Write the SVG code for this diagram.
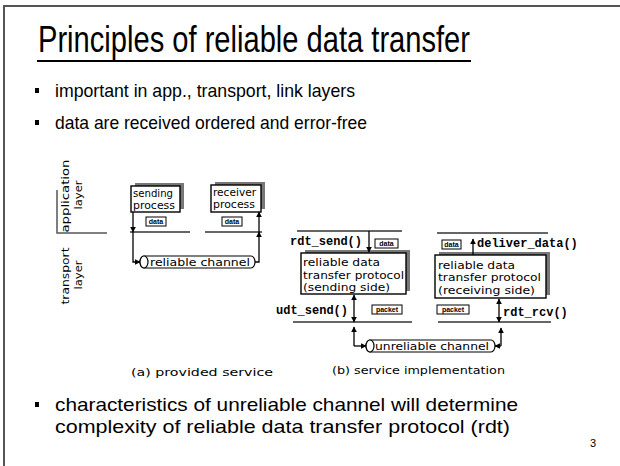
<svg xmlns="http://www.w3.org/2000/svg" width="620" height="466" viewBox="0 0 620 466">
  <defs>
    <marker id="ah" viewBox="0 0 10 10" refX="9" refY="5" markerWidth="6" markerHeight="6" markerUnits="userSpaceOnUse" orient="auto">
      <path d="M0,0 L10,5 L0,10 Z" fill="#000"/>
    </marker>
    <marker id="ahs" viewBox="0 0 10 10" refX="9" refY="5" markerWidth="6" markerHeight="6" markerUnits="userSpaceOnUse" orient="auto-start-reverse">
      <path d="M0,0 L10,5 L0,10 Z" fill="#000"/>
    </marker>
  </defs>
  <style>
    .slide { font-family: "Liberation Sans Narrow", "Liberation Sans", Arial, sans-serif; fill: #000; }
    .fig { font-family: "DejaVu Sans", "Liberation Sans", sans-serif; font-size: 11px; fill: #000; }
    .code { font-family: "Liberation Mono", "Courier New", monospace; font-size: 12px; font-weight: bold; fill: #000; }
    .tag { font-family: "Liberation Sans", Arial, sans-serif; font-size: 7px; font-weight: bold; fill: #000; }
    .tagbox { fill: #fff; stroke: #000; stroke-width: 1; }
    .box { fill: #fff; stroke: #000; stroke-width: 1.4; }
    .shadow { fill: #777; }
    .layer { stroke: #666; stroke-width: 2; fill: none; }
    .wire { stroke: #000; stroke-width: 1.3; fill: none; }
    .pipe { fill: #fff; stroke: #000; stroke-width: 1.2; }
  </style>

  <!-- slide frame -->
  <path d="M4,466 V6 H620" fill="none" stroke="#555" stroke-width="2"/>

  <!-- title -->
  <g id="title">
    <text class="slide" x="38" y="52" font-size="36" textLength="432" lengthAdjust="spacingAndGlyphs">Principles of reliable data transfer</text>
    <line x1="37" y1="61" x2="471" y2="61" stroke="#000" stroke-width="1.8"/>
  </g>

  <!-- top bullets -->
  <g id="bullets-top">
    <rect x="35" y="88" width="4" height="5" fill="#000"/>
    <text class="slide" x="55" y="97" font-size="18.5" textLength="300" lengthAdjust="spacingAndGlyphs">important in app., transport, link layers</text>
    <rect x="35" y="120" width="4" height="5" fill="#000"/>
    <text class="slide" x="55" y="129" font-size="18.5" textLength="312" lengthAdjust="spacingAndGlyphs">data are received ordered and error-free</text>
  </g>

  <!-- layer labels -->
  <g id="layer-labels">
    <text class="fig" transform="translate(69,196) rotate(-90)" text-anchor="middle" font-size="13.5" textLength="73" lengthAdjust="spacingAndGlyphs">application</text>
    <text class="fig" transform="translate(82,195) rotate(-90)" text-anchor="middle" font-size="13.5" textLength="29" lengthAdjust="spacingAndGlyphs">layer</text>
    <text class="fig" transform="translate(69,276) rotate(-90)" text-anchor="middle" font-size="13.5" textLength="57" lengthAdjust="spacingAndGlyphs">transport</text>
    <text class="fig" transform="translate(82,275) rotate(-90)" text-anchor="middle" font-size="13.5" textLength="29" lengthAdjust="spacingAndGlyphs">layer</text>
    <path d="M57,190 V233 H107" fill="none" stroke="#555" stroke-width="1.5"/>
  </g>

  <!-- (a) provided service -->
  <g id="sending-process">
    <rect class="shadow" x="135" y="183" width="49" height="26"/>
    <rect class="box" x="131" y="186" width="49" height="26"/>
    <text class="fig" x="133" y="197" textLength="40" lengthAdjust="spacingAndGlyphs">sending</text>
    <text class="fig" x="133" y="209" textLength="42" lengthAdjust="spacingAndGlyphs">process</text>
  </g>
  <g id="receiver-process">
    <rect class="shadow" x="215" y="182" width="50" height="27"/>
    <rect class="box" x="211" y="185" width="50" height="27"/>
    <text class="fig" x="213" y="196" textLength="43" lengthAdjust="spacingAndGlyphs">receiver</text>
    <text class="fig" x="213" y="208" textLength="42" lengthAdjust="spacingAndGlyphs">process</text>
  </g>
  <g id="data-a-send">
    <rect class="tagbox" x="146" y="217" width="20" height="9"/>
    <text class="tag" x="156" y="224" text-anchor="middle">data</text>
  </g>
  <g id="data-a-recv">
    <rect class="tagbox" x="222" y="217" width="20" height="9"/>
    <text class="tag" x="232" y="224" text-anchor="middle">data</text>
  </g>
  <g id="reliable-channel">
    <path class="pipe" d="M144,256 H251 A4,6 0 0 1 251,268 H144 A4,6 0 0 1 144,256 Z"/>
    <ellipse class="pipe" cx="144" cy="262" rx="4" ry="6"/>
    <text class="fig" x="150" y="266" font-size="11.5" textLength="100" lengthAdjust="spacingAndGlyphs">reliable channel</text>
  </g>
  <text id="caption-a" class="fig" x="131" y="376" font-size="12" textLength="142" lengthAdjust="spacingAndGlyphs">(a)  provided service</text>

  <!-- (b) service implementation -->
  <g id="rdt-sender">
    <rect class="shadow" x="305" y="250" width="105" height="41"/>
    <rect class="box" x="301" y="253" width="105" height="41"/>
    <text class="fig" x="303" y="266" textLength="77" lengthAdjust="spacingAndGlyphs">reliable data</text>
    <text class="fig" x="303" y="278.5" textLength="101" lengthAdjust="spacingAndGlyphs">transfer protocol</text>
    <text class="fig" x="303" y="290.5" textLength="87" lengthAdjust="spacingAndGlyphs">(sending side)</text>
  </g>
  <g id="rdt-receiver">
    <rect class="shadow" x="439" y="252" width="111" height="43"/>
    <rect class="box" x="435" y="255" width="111" height="43"/>
    <text class="fig" x="438" y="268.5" textLength="77" lengthAdjust="spacingAndGlyphs">reliable data</text>
    <text class="fig" x="438" y="281" textLength="103" lengthAdjust="spacingAndGlyphs">transfer protocol</text>
    <text class="fig" x="438" y="293.5" textLength="97" lengthAdjust="spacingAndGlyphs">(receiving side)</text>
  </g>
  <g id="data-b-send">
    <rect class="tagbox" x="375" y="239" width="23" height="9"/>
    <text class="tag" x="386.5" y="246" text-anchor="middle">data</text>
  </g>
  <g id="data-b-recv">
    <rect class="tagbox" x="442" y="240" width="19" height="9"/>
    <text class="tag" x="451.5" y="247" text-anchor="middle">data</text>
  </g>
  <g id="packet-send">
    <rect class="tagbox" x="372" y="305" width="30" height="9"/>
    <text class="tag" x="387" y="312" text-anchor="middle">packet</text>
  </g>
  <g id="packet-recv">
    <rect class="tagbox" x="437" y="305" width="32" height="9"/>
    <text class="tag" x="453" y="312" text-anchor="middle">packet</text>
  </g>
  <g id="unreliable-channel">
    <path class="pipe" d="M370,340 H491 A4,6 0 0 1 491,352 H370 A4,6 0 0 1 370,340 Z"/>
    <ellipse class="pipe" cx="370" cy="346" rx="4" ry="6"/>
    <text class="fig" x="375" y="350" font-size="11.5" textLength="114" lengthAdjust="spacingAndGlyphs">unreliable channel</text>
  </g>
  <g id="function-labels">
    <text class="code" x="290" y="245">rdt_send()</text>
    <text class="code" x="276" y="314">udt_send()</text>
    <text class="code" x="477" y="247">deliver_data()</text>
    <text class="code" x="503" y="316">rdt_rcv()</text>
  </g>
  <text id="caption-b" class="fig" x="332" y="374" font-size="12" textLength="173" lengthAdjust="spacingAndGlyphs">(b) service implementation</text>

  <!-- layer boundary lines -->
  <g id="boundaries">
    <line class="layer" x1="130" y1="232" x2="190" y2="232"/>
    <line class="layer" x1="205" y1="232" x2="262" y2="232"/>
    <line class="layer" x1="297" y1="231" x2="402" y2="231"/>
    <line class="layer" x1="293" y1="322" x2="412" y2="322"/>
    <line class="layer" x1="437" y1="233" x2="548" y2="233"/>
    <line class="layer" x1="438" y1="322" x2="551" y2="322"/>
  </g>

  <!-- connectors -->
  <g id="connectors">
    <path class="wire" d="M133,212 V232" marker-end="url(#ah)"/>
    <path class="wire" d="M133,232 V262 H140" marker-end="url(#ah)"/>
    <path class="wire" d="M255,262 H259 V232" marker-end="url(#ah)"/>
    <path class="wire" d="M259,232 V212" marker-end="url(#ah)"/>
    <path class="wire" d="M369,231 V252" marker-end="url(#ah)"/>
    <path class="wire" d="M354,295 V322" marker-start="url(#ahs)" marker-end="url(#ah)"/>
    <path class="wire" d="M354,346 V327" marker-end="url(#ah)"/>
    <path class="wire" d="M354,346 H366" marker-end="url(#ah)"/>
    <path class="wire" d="M473,255 V239" marker-end="url(#ah)"/>
    <path class="wire" d="M499,299 V322" marker-start="url(#ahs)" marker-end="url(#ah)"/>
    <path class="wire" d="M501,346 H495" marker-end="url(#ah)"/>
    <path class="wire" d="M501,346 V328" marker-end="url(#ah)"/>
  </g>

  <!-- bottom bullet -->
  <g id="bullet-bottom">
    <rect x="35" y="402" width="4" height="5" fill="#000"/>
    <text class="slide" x="55" y="411" font-size="18.5" textLength="463" lengthAdjust="spacingAndGlyphs">characteristics of unreliable channel will determine</text>
    <text class="slide" x="55" y="433" font-size="18.5" textLength="455" lengthAdjust="spacingAndGlyphs">complexity of reliable data transfer protocol (rdt)</text>
  </g>
  <text id="page-number" class="slide" x="590" y="447" font-size="11">3</text>
</svg>
